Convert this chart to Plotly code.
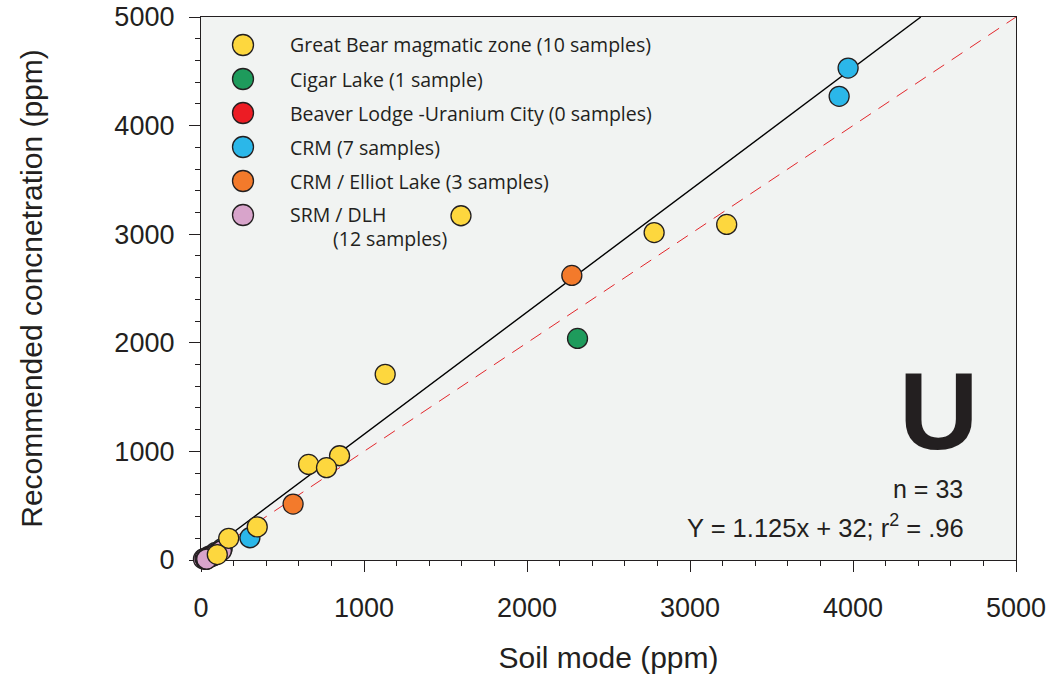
import plotly.graph_objects as go

# Source groups: names, colours and sample values (soil mode vs recommended concentration, ppm)
group_names = [
    "Great Bear magmatic zone (10 samples)",
    "Cigar Lake (1 sample)",
    "Beaver Lodge -Uranium City (0 samples)",
    "CRM (7 samples)",
    "CRM / Elliot Lake (3 samples)",
    "SRM / DLH",
]
group_colors = ["#fdd73e", "#1e9b5c", "#ec1c24", "#2bb7e9", "#f37a2b", "#d8a4cb"]

great_bear_x = [1595, 2780, 3225, 1130, 660, 850, 770, 345, 170, 100]
great_bear_y = [3170, 3015, 3090, 1710, 880, 960, 850, 305, 200, 50]

cigar_lake_x = [2310]
cigar_lake_y = [2040]

beaver_lodge_x = []
beaver_lodge_y = []

crm_x = [3970, 3915, 300, 60, 90, 45, 130]
crm_y = [4530, 4270, 205, 40, 70, 30, 105]

elliot_lake_x = [2275, 565, 88]
elliot_lake_y = [2620, 515, 48]

srm_dlh_x = [15, 25, 30, 40, 50, 60, 70, 80, 95, 110, 125, 35]
srm_dlh_y = [10, 15, 5, 20, 25, 30, 35, 45, 60, 70, 85, 8]

# Regression Y = slope * x + intercept, and the 1:1 reference
slope = 1.125
intercept = 32
axis_max = 5000

fig = go.Figure()

ink = "#231f20"

# 1:1 line (red dashed)
fig.add_trace(go.Scatter(
    x=[0, axis_max], y=[0, axis_max], mode="lines",
    line=dict(color="#e3262b", width=1, dash="13px,9px"),
    showlegend=False, hoverinfo="skip",
))

# regression line, stopped at the top of the plot
x_end = (axis_max - intercept) / slope
fig.add_trace(go.Scatter(
    x=[0, x_end], y=[intercept, slope * x_end + intercept], mode="lines",
    line=dict(color="black", width=1.4),
    showlegend=False, hoverinfo="skip",
))

series = [
    (crm_x, crm_y, 3),
    (elliot_lake_x, elliot_lake_y, 4),
    (srm_dlh_x, srm_dlh_y, 5),
    (beaver_lodge_x, beaver_lodge_y, 2),
    (cigar_lake_x, cigar_lake_y, 1),
    (great_bear_x, great_bear_y, 0),
]
for xs, ys, gi in series:
    fig.add_trace(go.Scatter(
        x=xs, y=ys, mode="markers", name=group_names[gi],
        marker=dict(size=20, color=group_colors[gi], line=dict(color=ink, width=1.3)),
        cliponaxis=False, showlegend=False,
    ))

# hand-placed legend inside the plot area
plot_l, plot_r, plot_t, plot_b = 201, 1016, 17, 560
pw, ph = plot_r - plot_l, plot_b - plot_t

def px_x(p):
    return (p - plot_l) / pw

def px_y(p):
    return (plot_b - p) / ph

legend_font = dict(family="Open Sans", size=19.5, color=ink)
legend_rows = [45, 79, 113, 147, 181, 215]
for gi, row in enumerate(legend_rows):
    cy = px_y(row)
    fig.add_shape(
        type="circle", xref="paper", yref="paper",
        xsizemode="pixel", ysizemode="pixel",
        xanchor=px_x(243), yanchor=cy,
        x0=-10.5, x1=10.5, y0=-10.5, y1=10.5,
        fillcolor=group_colors[gi], line=dict(color=ink, width=1.3),
    )
    fig.add_annotation(
        x=px_x(288), y=cy, xref="paper", yref="paper",
        text=group_names[gi], showarrow=False, xanchor="left", yanchor="middle",
        font=legend_font,
    )
fig.add_annotation(
    x=px_x(331), y=px_y(239), xref="paper", yref="paper",
    text="(12 samples)", showarrow=False, xanchor="left", yanchor="middle",
    font=legend_font,
)

# element label and fit statistics
fig.add_annotation(
    x=px_x(938), y=px_y(410), xref="paper", yref="paper",
    text="<b>U</b>", showarrow=False, xanchor="center", yanchor="middle",
    font=dict(family="Liberation Sans", size=110, color=ink),
)
fig.add_annotation(
    x=px_x(965), y=px_y(489), xref="paper", yref="paper",
    text="n = 33", showarrow=False, xanchor="right", yanchor="middle",
    font=dict(family="Liberation Sans", size=25, color=ink),
)
fig.add_annotation(
    x=px_x(966), y=px_y(526), xref="paper", yref="paper",
    text=f"Y = {slope}x + {intercept}; r<sup>2</sup> = .96", showarrow=False,
    xanchor="right", yanchor="middle",
    font=dict(family="Liberation Sans", size=25.5, color=ink),
)

axis_common = dict(
    range=[0, axis_max], dtick=1000, tick0=0,
    showgrid=False, zeroline=False, automargin=False,
    showline=True, linecolor=ink, linewidth=1.3, mirror=True,
    ticks="outside", ticklen=11, tickwidth=1.3, tickcolor=ink,
    minor=dict(dtick=200, ticks="outside", ticklen=5, tickwidth=1.3, tickcolor=ink, showgrid=False),
    layer="below traces",
)

fig.update_layout(
    width=1053, height=674,
    margin=dict(l=plot_l, r=1053 - plot_r, t=plot_t, b=674 - plot_b),
    paper_bgcolor="white", plot_bgcolor="#f1f3f2",
    showlegend=False,
    xaxis=dict(
        **axis_common,
        tickfont=dict(family="Liberation Sans", size=27, color=ink),
        ticklabelstandoff=12,
        title=dict(text="Soil mode (ppm)", standoff=30,
                   font=dict(family="Liberation Sans", size=30, color=ink)),
    ),
    yaxis=dict(
        **axis_common,
        tickfont=dict(family="Liberation Sans", size=27, color=ink),
        ticklabelstandoff=9,
        title=dict(text="Recommended concnetration (ppm)", standoff=62,
                   font=dict(family="Liberation Sans", size=30, color=ink)),
    ),
)

fig.write_html("out.html")
